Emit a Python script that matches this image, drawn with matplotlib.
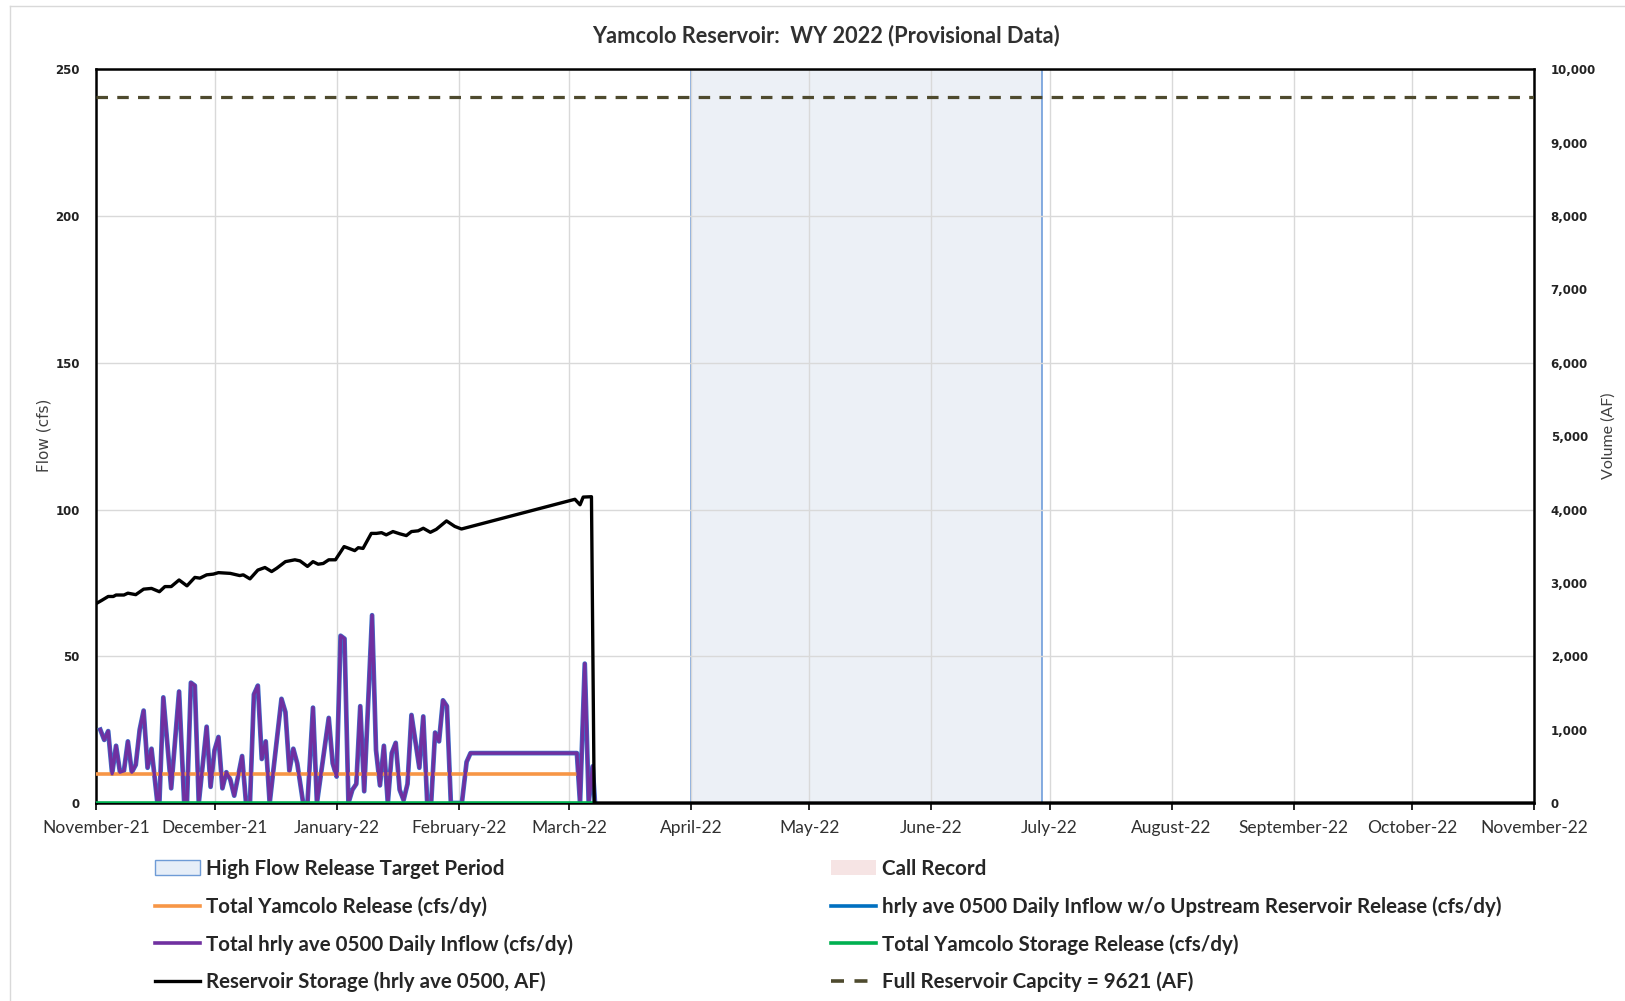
import numpy as np
import matplotlib
matplotlib.use('Agg')
import matplotlib.pyplot as plt
import matplotlib.dates as mdates
from matplotlib.patches import Patch
from matplotlib.lines import Line2D
from matplotlib.ticker import FuncFormatter, MultipleLocator
from datetime import datetime

# Water year axis: Nov 1 2021 .. Nov 1 2022
start = mdates.date2num(datetime(2021, 11, 1))
end = mdates.date2num(datetime(2022, 11, 1))

# Total hrly ave 0500 daily inflow (cfs), days since Nov 1 2021
inflow_days = [1, 2, 3, 4, 5, 6, 7, 8, 9, 10, 11, 12, 13, 14, 15.5, 16, 17, 19, 21, 22.3,
               23, 24, 25, 26, 28, 29, 30, 31, 32, 33, 34, 35, 37, 38, 39, 40, 41, 42,
               43, 44, 47, 48, 49, 50, 51, 52.5, 53.6, 55, 56, 59, 60, 61, 62, 63, 64,
               65, 66, 67, 68, 70, 71, 72, 73, 74, 75, 76, 77, 78, 79, 80, 82, 83, 84,
               85, 86, 87, 88, 89, 90, 92.8, 94, 95, 122, 122.8, 124, 125, 126, 126.6]
inflow_cfs = [25, 21.5, 24.5, 10, 19.5, 10.5, 11, 21, 10.5, 13, 25, 31.5, 12, 18.5, 0, 0, 36, 5, 38, 0,
              0, 41, 40, 0, 26, 5.5, 18, 22.5, 5, 10.5, 8, 2.5, 16, 0, 0, 37, 40, 15,
              21, 0, 35.5, 31, 11, 18.5, 13.5, 0, 0, 32.5, 0, 29, 13.5, 9, 57, 56, 0,
              4.5, 6.5, 33, 4, 64, 18, 6, 19.5, 0, 17, 20.5, 4.5, 1, 6.5, 30, 12, 29.5, 0,
              0, 24, 21, 35, 33, 0, 0, 14, 17, 17, 0, 47.5, 0, 12.5, 0]

# Total Yamcolo release (cfs)
release_days = [0, 121.5]
release_cfs = [10, 10]

# Total Yamcolo storage release (cfs)
storage_release_days = [0, 126.5]
storage_release_cfs = [0, 0]

# Reservoir storage (AF)
storage_days = [0, 1.3, 3, 4.3, 5, 7, 8, 10, 12, 14, 16, 17.4, 19, 21, 23, 25, 26.3, 28,
                29.7, 31, 34, 36.4, 37.3, 39, 41, 42.8, 44.5, 45.8, 48, 50.4, 51.7, 53.6,
                55, 56.3, 57.6, 59, 60.7, 62.9, 64.4, 65.6, 66.5, 67.7, 69.8, 71.1, 72.4,
                73.6, 75.3, 77, 78.7, 80, 81.7, 83, 84.8, 86.3, 88.9, 91, 92.7, 121.5,
                122.8, 123.6, 125.7, 126.4, 365]
storage_af = [2720, 2760, 2815, 2815, 2835, 2835, 2860, 2840, 2915, 2925, 2880, 2950, 2950,
              3040, 2960, 3075, 3065, 3110, 3120, 3140, 3130, 3100, 3110, 3055, 3175, 3210,
              3155, 3200, 3290, 3315, 3300, 3225, 3290, 3255, 3265, 3315, 3315, 3495, 3465,
              3440, 3480, 3470, 3675, 3675, 3685, 3655, 3700, 3670, 3645, 3700, 3710, 3745,
              3690, 3730, 3845, 3770, 3735, 4140, 4065, 4170, 4175, 0, 0]

full_capacity_af = 9621
high_flow_start = datetime(2022, 4, 1)
high_flow_end = datetime(2022, 6, 29)

FONT = 'Lato'

fig = plt.figure(figsize=(16.25, 10.01), dpi=100)
ax = fig.add_axes([0.0593, 0.1978, 0.8847, 0.7329])
ax2 = ax.twinx()

# high flow target period
ax.axvspan(high_flow_start, high_flow_end, ymin=0, ymax=1, facecolor='#ECF0F6',
           edgecolor='#6F9DDA', linewidth=1.2, zorder=0.3)

x_in = start + np.array(inflow_days)
ax.plot(x_in, inflow_cfs, color='#3F6FC8', lw=3.4, zorder=2.6)
ax.plot(x_in, inflow_cfs, color='#7030A0', lw=2.4, zorder=2.7)
ax.plot(start + np.array(release_days), release_cfs, color='#F79646', lw=2.6, zorder=2.65)
ax.plot(start + np.array(storage_release_days), storage_release_cfs, color='#00B050',
        lw=2.6, zorder=3)

ax2.plot(start + np.array(storage_days), storage_af, color='black', lw=2.4, zorder=3)
ax2.plot([start, end], [full_capacity_af, full_capacity_af], color='#4E4A2E', lw=2.3,
         linestyle=(0, (3.6, 2.9)), zorder=3)

ax.set_xlim(start, end)
ax.set_ylim(0, 250)
ax2.set_ylim(0, 10000)

ax.xaxis.set_major_locator(mdates.MonthLocator())
ax.xaxis.set_major_formatter(mdates.DateFormatter('%B-%y'))
ax.yaxis.set_major_locator(MultipleLocator(50))
ax2.yaxis.set_major_locator(MultipleLocator(1000))
ax2.yaxis.set_major_formatter(FuncFormatter(lambda v, p: f'{int(v):,}'))

ax.set_axisbelow(True)
ax.grid(True, color='#D9D9D9', lw=1.0, zorder=0.5)

ax.tick_params(axis='x', length=5, width=1.2, color='black', pad=7, labelsize=12.5,
               labelcolor='#303030')
ax.tick_params(axis='y', length=0, pad=12, labelsize=8.5, labelcolor='#222222')
ax2.tick_params(axis='y', length=0, pad=12, labelsize=8.5, labelcolor='#222222')
for lab in ax.get_xticklabels():
    lab.set_family(FONT)
for lab in ax.get_yticklabels() + ax2.get_yticklabels():
    lab.set_fontweight('bold')

for s in ['left', 'right', 'top', 'bottom']:
    ax.spines[s].set_color('black')
    ax.spines[s].set_linewidth(1.8)
for s in ax2.spines.values():
    s.set_visible(False)

fig.text(0.508, 0.965, 'Yamcolo Reservoir:  WY 2022 (Provisional Data)', ha='center',
         va='center', fontsize=15.7, fontweight='bold', family=FONT, color='#303030')
fig.text(0.0272, 0.565, 'Flow (cfs)', rotation=90, ha='center', va='center',
         fontsize=11, color='#404040')
fig.text(0.9897, 0.565, 'Volume (AF)', rotation=90, ha='center', va='center',
         fontsize=11.5, family=FONT, color='#404040')

# chart border
fig.add_artist(Line2D([9.5 / 1625, 9.5 / 1625], [0, 1 - 6 / 1001], transform=fig.transFigure,
                      color='#D9D9D9', lw=1))
fig.add_artist(Line2D([9.5 / 1625, 1], [1 - 6 / 1001, 1 - 6 / 1001], transform=fig.transFigure,
                      color='#D9D9D9', lw=1))

left_handles = [
    Patch(facecolor='#E6EEF8', edgecolor='#6E9BD6', lw=1),
    Line2D([], [], color='#F79646', lw=2.6),
    Line2D([], [], color='#7030A0', lw=2.6),
    Line2D([], [], color='black', lw=2.4),
]
left_labels = ['High Flow Release Target Period', 'Total Yamcolo Release (cfs/dy)',
               'Total hrly ave 0500 Daily Inflow (cfs/dy)', 'Reservoir Storage (hrly ave 0500, AF)']
right_handles = [
    Patch(facecolor='#F6E4E4', edgecolor='none'),
    Line2D([], [], color='#0070C0', lw=2.6),
    Line2D([], [], color='#00B050', lw=2.6),
    Line2D([], [], color='#4E4A2E', lw=2.6, linestyle=(0, (3.6, 2.9))),
]
right_labels = ['Call Record', 'hrly ave 0500 Daily Inflow w/o Upstream Reservoir Release (cfs/dy)',
                'Total Yamcolo Storage Release (cfs/dy)', 'Full Reservoir Capcity = 9621 (AF)']

legend_kw = dict(loc='upper left', frameon=False, handlelength=2.2, handletextpad=0.25,
                 labelspacing=0.84, borderpad=0, borderaxespad=0,
                 prop={'family': FONT, 'weight': 'bold', 'size': 14.8},
                 labelcolor='#262626')
leg1 = fig.legend(left_handles, left_labels, bbox_to_anchor=(0.0955, 0.142), **legend_kw)
leg2 = fig.legend(right_handles, right_labels, bbox_to_anchor=(0.5115, 0.142), **legend_kw)

fig.savefig('out.png', dpi=100)
